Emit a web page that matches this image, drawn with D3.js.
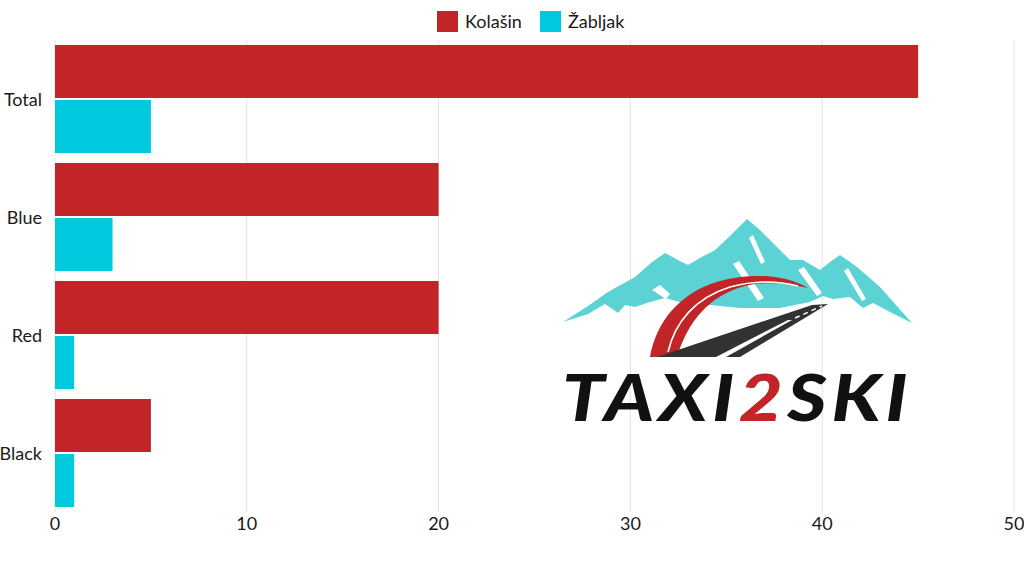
<!DOCTYPE html>
<html><head><meta charset="utf-8">
<script src="https://cdn.jsdelivr.net/npm/d3@7/dist/d3.min.js"></script>
<style>body{margin:0;background:#fff;}svg{display:block;font-family:Lato,"Noto Sans",sans-serif;}</style>
</head><body><svg id="c" width="1024" height="576"></svg>
<script>
const categories = ["Total", "Blue", "Red", "Black"];
const seriesNames = ["Kolašin", "Žabljak"];
const kolasin = [45, 20, 20, 5];
const zabljak = [5, 3, 1, 1];
const xTicks = [0, 10, 20, 30, 40, 50];
const colors = ["#C12527", "#00C9DD"];

const svg = d3.select("#c");
const m = {l:55, r:1014, t:40, b:512};
const x = d3.scaleLinear().domain([0,50]).range([m.l, m.r]);
const y = d3.scaleBand().domain(categories).range([m.t, m.b]).paddingInner(10/118).paddingOuter(5/118);
const ys = d3.scaleBand().domain(seriesNames).range([0, y.bandwidth()]).paddingInner(4/108);

// grid
svg.append("g").selectAll("line").data(xTicks).join("line")
  .attr("x1", d=>x(d)).attr("x2", d=>x(d)).attr("y1", m.t).attr("y2", m.b)
  .attr("stroke", "#e3e3e3").attr("stroke-width", 1);

// logo (decorative)
const logo = svg.append("g");
logo.append("path").attr("fill", "#5BD3D4").attr("d",
 "M563,322 L588,306 L608,292 L635,277 L652,262 L665,253 L678,260 L688,265 L700,258 L715,250 L730,236 L747,219 L760,230 L777,247 L790,260 L803,260 L820,270 L830,262 L840,255 L857,267 L880,287 L912,323 L890,312 L873,303 L863,308 L850,297 L833,299 L823,296 L810,302 L780,308 L740,308 L700,304 L680,302 L665,298 L650,302 L635,307 L625,305 L618,313 L605,304 L588,314 Z");
// snow streaks
const snow = [
 "M652,290 L660,285 L670,294 L666,299 Z",
 "M733,264 L739,261 L764,298 L758,301 Z",
 "M749,238 L753,235 L765,262 L761,264 Z",
 "M798,270 L804,267 L822,293 L817,296 Z",
 "M844,271 L848,268 L866,299 L862,301 Z"];
logo.selectAll(".snow").data(snow).join("path").attr("fill", "#fff").attr("d", d=>d);
logo.append("path").attr("fill", "#C12527").attr("d",
 "M650,357 C656,322 680,292 720,281 C750,273 785,274 808,288 C785,282 760,282 745,286 C708,296 688,322 677,357 Z");
logo.append("path").attr("fill", "none").attr("stroke", "#fff").attr("stroke-width", 1.6).attr("d",
 "M668,352 C675,322 695,298 730,287 C755,280 778,281 798,286");
logo.append("path").attr("fill", "#323232").attr("d",
 "M657,357 L740,357 L828,304 L812,305 Z");
logo.append("path").attr("fill", "#fff").attr("d",
 "M716,357 L726,357 L792,320 L788,320 Z");
logo.append("path").attr("fill", "none").attr("stroke", "#fff").attr("stroke-width", 1.5).attr("stroke-dasharray", "5,4").attr("d",
 "M795,318 L822,306");
const lt = logo.append("text").attr("x", 737).attr("y", 421).attr("text-anchor", "middle")
  .attr("font-size", 65).attr("font-weight", 900).attr("font-style", "italic").attr("fill", "#111")
  .attr("letter-spacing", 4).attr("textLength", 350).attr("lengthAdjust", "spacingAndGlyphs");
lt.append("tspan").text("TAXI");
lt.append("tspan").attr("fill", "#C12527").text("2");
lt.append("tspan").text("SKI");

// bars
const groups = svg.append("g").selectAll("g").data(categories).join("g")
  .attr("transform", d=>`translate(0,${y(d)})`);
groups.selectAll("rect").data((d,i)=>[{s:0,v:kolasin[i]},{s:1,v:zabljak[i]}]).join("rect")
  .attr("x", x(0)).attr("y", d=>ys(seriesNames[d.s])).attr("height", ys.bandwidth())
  .attr("width", d=>x(d.v)-x(0)).attr("fill", d=>colors[d.s]);

// y labels
svg.append("g").selectAll("text").data(categories).join("text")
  .attr("x", 42).attr("y", d=>y(d)+y.bandwidth()/2 + 1).attr("dy", "0.35em")
  .attr("text-anchor", "end").attr("font-size", 18).attr("fill", "#1a1a1a").text(d=>d);

// x labels
svg.append("g").selectAll("text").data(xTicks).join("text")
  .attr("x", d=>x(d)).attr("y", 530).attr("text-anchor", "middle")
  .attr("font-size", 18).attr("fill", "#1a1a1a").text(d=>d);

// legend
const lg = svg.append("g");
const lx = [437, 540];
seriesNames.forEach((s,i)=>{
  lg.append("rect").attr("x", lx[i]).attr("y", 11).attr("width", 21).attr("height", 21).attr("fill", colors[i]);
  lg.append("text").attr("x", lx[i]+28).attr("y", 28).attr("font-size", 18).attr("fill", "#1a1a1a").text(s);
});
</script></body></html>
